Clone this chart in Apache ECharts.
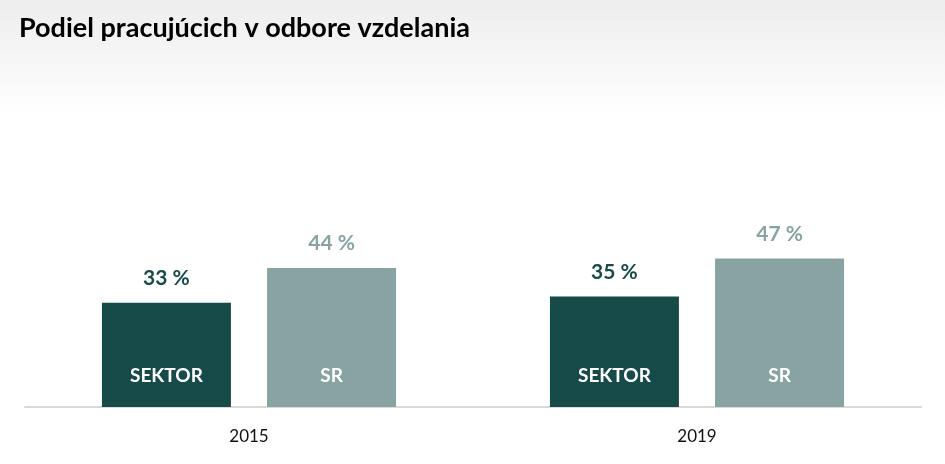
<!DOCTYPE html>
<html>
<head>
<meta charset="utf-8">
<script src="https://cdn.jsdelivr.net/npm/echarts@6/dist/echarts.min.js"></script>
<style>html,body{margin:0;padding:0;background:#fff}#c{width:945px;height:464px}</style>
</head>
<body>
<div id="c"></div>
<script>
const title = 'Podiel pracujúcich v odbore vzdelania';
const categories = ['2015', '2019'];
const sektorValues = [33, 35];
const srValues = [44, 47];
const seriesNames = ['SEKTOR', 'SR'];

const FONT = 'Lato, "Open Sans", sans-serif';
const darkColor = '#164b4a';
const lightColor = '#88a3a2';

function barPair(name, values, color, stack) {
  return [
    {
      name: name, type: 'bar', stack: stack, data: values,
      barWidth: 129,
      itemStyle: { color: color },
      label: {
        show: true, position: 'insideBottom', distance: 22,
        formatter: name, color: '#ffffff', fontFamily: FONT,
        fontWeight: 'bold', fontSize: 19
      },
      silent: true
    },
    {
      name: name + ' value', type: 'bar', stack: stack,
      data: values.map(() => 0),
      barWidth: 129,
      itemStyle: { color: 'transparent' },
      label: {
        show: true, position: 'top', distance: 14,
        formatter: (p) => values[p.dataIndex] + ' %',
        color: color, fontFamily: FONT, fontWeight: 'bold', fontSize: 21
      },
      silent: true
    }
  ];
}

const chart = echarts.init(document.getElementById('c'), null, { renderer: 'canvas' });
chart.setOption({
  animation: false,
  backgroundColor: '#ffffff',
  graphic: [{
    type: 'rect', left: 0, top: 0, z: -10,
    shape: { width: 945, height: 115 },
    style: {
      fill: new echarts.graphic.LinearGradient(0, 0, 0, 1, [
        { offset: 0, color: '#ededed' },
        { offset: 1, color: '#ffffff' }
      ])
    }
  }],
  title: {
    text: title, left: 14, top: 10,
    textStyle: { fontFamily: FONT, fontWeight: 'bold', fontSize: 27, color: '#000000' }
  },
  grid: { left: 25, right: 24, top: 91, bottom: 57, containLabel: false },
  xAxis: {
    type: 'category', data: categories,
    axisLine: { lineStyle: { color: '#d9d9d9', width: 2 } },
    axisTick: { show: false },
    axisLabel: { color: '#111111', fontFamily: FONT, fontSize: 17, margin: 21 }
  },
  yAxis: {
    type: 'value', min: 0, max: 100, show: false,
    splitLine: { show: false }
  },
  series: [
    ...barPair(seriesNames[0], sektorValues, darkColor, 's1'),
    ...barPair(seriesNames[1], srValues, lightColor, 's2')
  ],
  barGap: '28%'
});
</script>
</body>
</html>
